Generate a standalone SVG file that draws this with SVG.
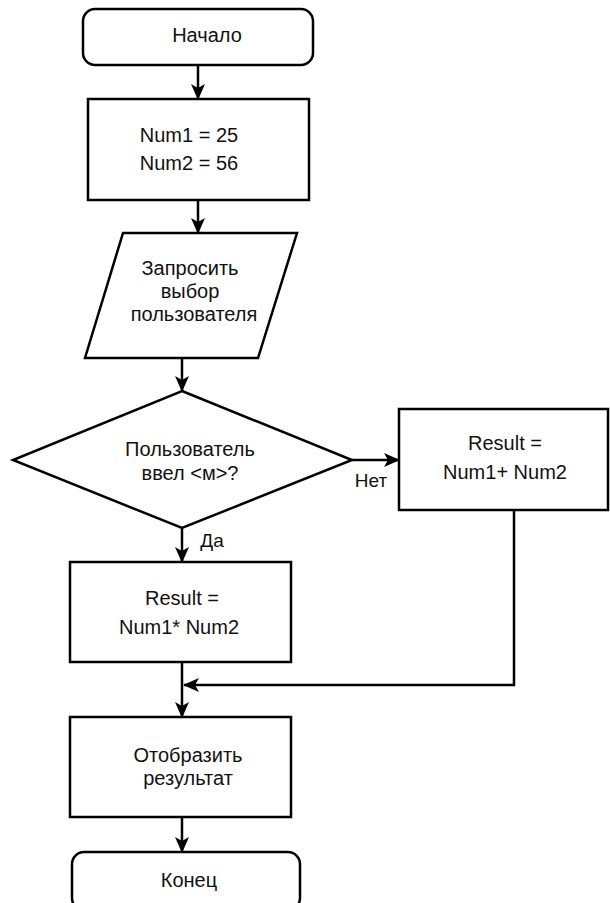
<svg xmlns="http://www.w3.org/2000/svg" width="610" height="903" viewBox="0 0 610 903">
  <defs>
    <marker id="arr" markerUnits="userSpaceOnUse" markerWidth="16" markerHeight="14" refX="15" refY="7" orient="auto">
      <path d="M0,0 L16,7 L0,14 L4,7 Z" fill="#000"/>
    </marker>
    <style>
      .shape { fill: #fff; stroke: #000; stroke-width: 2.5; }
      .edge { fill: none; stroke: #000; stroke-width: 2.5; marker-end: url(#arr); }
      text { font-family: "Liberation Sans", Arial, sans-serif; font-size: 20px; fill: #111; text-anchor: middle; }
      .lbl { font-size: 19px; }
    </style>
  </defs>
  <rect width="610" height="903" fill="#fff"/>

  <g id="connectors">
    <line class="edge" x1="198" y1="65" x2="198" y2="99"/>
    <line class="edge" x1="198" y1="200" x2="198" y2="233"/>
    <line class="edge" x1="182" y1="358" x2="182" y2="391"/>
    <line class="edge" x1="352" y1="460" x2="399" y2="460"/>
    <line class="edge" x1="182" y1="528" x2="182" y2="562"/>
    <line class="edge" x1="182" y1="662" x2="182" y2="717"/>
    <polyline class="edge" points="514,510 514,685 184,685"/>
    <line class="edge" x1="182" y1="817" x2="182" y2="852"/>
    <text class="lbl" x="371" y="487">Нет</text>
    <text class="lbl" x="212" y="547">Да</text>
  </g>

  <g id="start">
    <rect class="shape" x="83" y="9" width="230" height="56" rx="12"/>
    <text x="207" y="42">Начало</text>
  </g>

  <g id="init">
    <rect class="shape" x="88" y="99" width="221" height="101"/>
    <text x="189" y="142">Num1 = 25</text>
    <text x="189" y="170">Num2 = 56</text>
  </g>

  <g id="input">
    <polygon class="shape" points="123,233 297,233 258,358 85,358"/>
    <text x="190" y="275">Запросить</text>
    <text x="190" y="298">выбор</text>
    <text x="194" y="321">пользователя</text>
  </g>

  <g id="decision">
    <polygon class="shape" points="182,391 352,460 182,528 13,460"/>
    <text x="190" y="456">Пользователь</text>
    <text x="190" y="480">ввел &lt;м&gt;?</text>
  </g>

  <g id="sum">
    <rect class="shape" x="399" y="409" width="209" height="101"/>
    <text x="505" y="450">Result =</text>
    <text x="505" y="479">Num1+ Num2</text>
  </g>

  <g id="product">
    <rect class="shape" x="70" y="562" width="221" height="100"/>
    <text x="182" y="605">Result =</text>
    <text x="179" y="634">Num1* Num2</text>
  </g>

  <g id="display">
    <rect class="shape" x="70" y="717" width="221" height="100"/>
    <text x="188" y="762">Отобразить</text>
    <text x="188" y="785">результат</text>
  </g>

  <g id="end">
    <rect class="shape" x="72" y="852" width="228" height="58" rx="12"/>
    <text x="189" y="887">Конец</text>
  </g>
</svg>
